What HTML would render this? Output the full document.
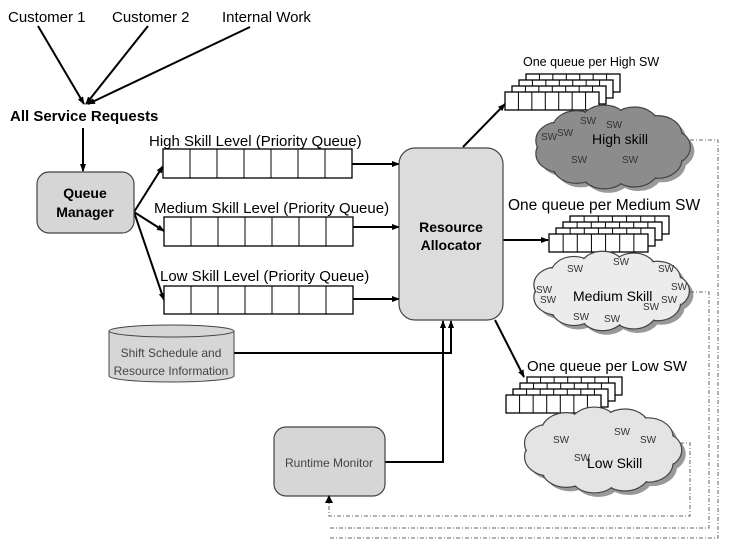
<!DOCTYPE html>
<html><head><meta charset="utf-8"><style>
html,body{margin:0;padding:0;background:#fff;}
svg{display:block;font-family:"Liberation Sans",Arial,sans-serif;}
</style></head><body>
<svg id="s" width="743" height="554" viewBox="0 0 743 554" xmlns="http://www.w3.org/2000/svg">
<defs>
<marker id="ah" markerWidth="8" markerHeight="8" refX="7" refY="4" orient="auto" markerUnits="userSpaceOnUse"><path d="M0,1 L8,4 L0,7 z" fill="#000"/></marker>
</defs>
<g font-size="15" fill="#000">
<text x="8" y="22">Customer 1</text>
<text x="112" y="22">Customer 2</text>
<text x="222" y="22">Internal Work</text>
<text x="10" y="121" font-weight="bold">All Service Requests</text>
</g>
<g stroke="#000" stroke-width="2" fill="none">
<line x1="38" y1="26" x2="84" y2="104" marker-end="url(#ah)"/>
<line x1="148" y1="26" x2="86" y2="104" marker-end="url(#ah)"/>
<line x1="250" y1="27" x2="88" y2="104" marker-end="url(#ah)"/>
<line x1="83" y1="128" x2="83" y2="171" marker-end="url(#ah)"/>
<line x1="134" y1="212" x2="163" y2="166" marker-end="url(#ah)"/>
<line x1="134" y1="212" x2="164" y2="231" marker-end="url(#ah)"/>
<line x1="134" y1="212" x2="164" y2="300" marker-end="url(#ah)"/>
<line x1="352" y1="164" x2="399" y2="164" marker-end="url(#ah)"/>
<line x1="353" y1="227" x2="399" y2="227" marker-end="url(#ah)"/>
<line x1="353" y1="299" x2="399" y2="299" marker-end="url(#ah)"/>
<polyline points="234,353 451,353 451,321" marker-end="url(#ah)"/>
<polyline points="385,462 443,462 443,321" marker-end="url(#ah)"/>
<line x1="463" y1="147" x2="505" y2="104" marker-end="url(#ah)"/>
<line x1="503" y1="240" x2="548" y2="240" marker-end="url(#ah)"/>
<line x1="495" y1="320" x2="524" y2="377" marker-end="url(#ah)"/>
</g>
<rect x="37" y="172" width="97" height="61" rx="12" fill="#d6d6d6" stroke="#444" stroke-width="1.2"/>
<g font-size="14" font-weight="bold" text-anchor="middle"><text x="85" y="198">Queue</text><text x="85" y="217">Manager</text></g>
<rect x="399" y="148" width="104" height="172" rx="16" fill="#dcdcdc" stroke="#444" stroke-width="1.2"/>
<g font-size="14" font-weight="bold" text-anchor="middle"><text x="451" y="232">Resource</text><text x="451" y="250">Allocator</text></g>
<g font-size="15">
<text x="149" y="146">High Skill Level (Priority Queue)</text>
<text x="154" y="213">Medium Skill Level (Priority Queue)</text>
<text x="160" y="281">Low Skill Level (Priority Queue)</text>
<text x="523" y="66" font-size="12.5">One queue per High SW</text>
<text x="508" y="210" font-size="15.5">One queue per Medium SW</text>
<text x="527" y="371">One queue per Low SW</text>
</g>
<g id="queues"></g>
<path d="M109,331 L109,376 A62.5,6 0 0 0 234,376 L234,331" fill="#d6d6d6" stroke="#444"/>
<ellipse cx="171.5" cy="331" rx="62.5" ry="6" fill="#d6d6d6" stroke="#444"/>
<g font-size="12" fill="#444" text-anchor="middle"><text x="171" y="357">Shift Schedule and</text><text x="171" y="375">Resource Information</text></g>
<rect x="274" y="427" width="111" height="69" rx="12" fill="#d6d6d6" stroke="#444" stroke-width="1.2"/>
<text x="329" y="467" font-size="12" fill="#444" text-anchor="middle">Runtime Monitor</text>
<g id="clouds"></g>
<g stroke="#666" stroke-width="1" fill="none" stroke-dasharray="4,2,1,2">
<polyline points="690,140 718,140 718,538 329,538"/>
<polyline points="690,292 709,292 709,528 329,528"/>
<polyline points="680,443 690,443 690,516 329,516 329,500"/>
</g>
<path d="M325,503 L329,495 L333,503 z" fill="#000"/>
</svg>
<script>
var NS="http://www.w3.org/2000/svg";
function el(p,t,a){var e=document.createElementNS(NS,t);for(var k in a)e.setAttribute(k,a[k]);p.appendChild(e);return e;}
var q=document.getElementById('queues');
function queue(x,y,w,h,n){el(q,'rect',{x:x,y:y,width:w,height:h,fill:'#fff',stroke:'#000','stroke-width':1.3});
 for(var i=1;i<n;i++){var xx=x+w*i/n;el(q,'line',{x1:xx,y1:y,x2:xx,y2:y+h,stroke:'#000','stroke-width':1});}}
[[163,149,189,29],[164,217,189,29],[164,286,189,28]].forEach(function(a){queue(a[0],a[1],a[2],a[3],7);});
function stack(x,y,w,h){for(var i=3;i>=0;i--){queue(x+i*7,y-i*6,w,h,7);}}
stack(505,92,94,18);stack(549,234,99,18);stack(506,395,95,18);
var c=document.getElementById('clouds');
function cloud(x0,y0,w,h,fill,sws,label,lx,ly){
 var g=el(c,'g',{});
 var cx=x0+w/2,cy=y0+h/2,pts=[];
 var N=11;
 for(var i=0;i<N;i++){var a=i/N*Math.PI*2;pts.push([cx+Math.cos(a)*w*0.36,cy+Math.sin(a)*h*0.3]);}
 var r=Math.min(w,h)*0.24;
 pts.forEach(function(p){el(g,'ellipse',{cx:p[0]+4,cy:p[1]+4,rx:r*1.3,ry:r,fill:'#999'});});
 pts.forEach(function(p){el(g,'ellipse',{cx:p[0],cy:p[1],rx:r*1.3,ry:r,fill:fill,stroke:'#444','stroke-width':1.2});});
 el(g,'ellipse',{cx:cx,cy:cy,rx:w*0.36,ry:h*0.3,fill:fill});
 pts.forEach(function(p){el(g,'ellipse',{cx:p[0],cy:p[1],rx:r*1.3-1,ry:r-1,fill:fill});});
 sws.forEach(function(s){var t=el(g,'text',{x:s[0],y:s[1],'font-size':10,fill:'#333'});t.textContent='SW';});
 var t=el(g,'text',{x:lx,y:ly,'font-size':14,fill:'#000'});t.textContent=label;
}
cloud(537,108,150,78,'#8c8c8c',[[580,124],[606,128],[541,140],[557,136],[571,163],[622,163]],'High skill',592,144);
cloud(533,254,155,74,'#ececec',[[613,265],[567,272],[658,272],[536,293],[540,303],[671,290],[643,310],[573,320],[604,322],[661,303]],'Medium Skill',573,301);
cloud(526,410,152,80,'#e4e4e4',[[614,435],[553,443],[640,443],[574,461]],'Low Skill',587,468);
</script>
</body></html>
